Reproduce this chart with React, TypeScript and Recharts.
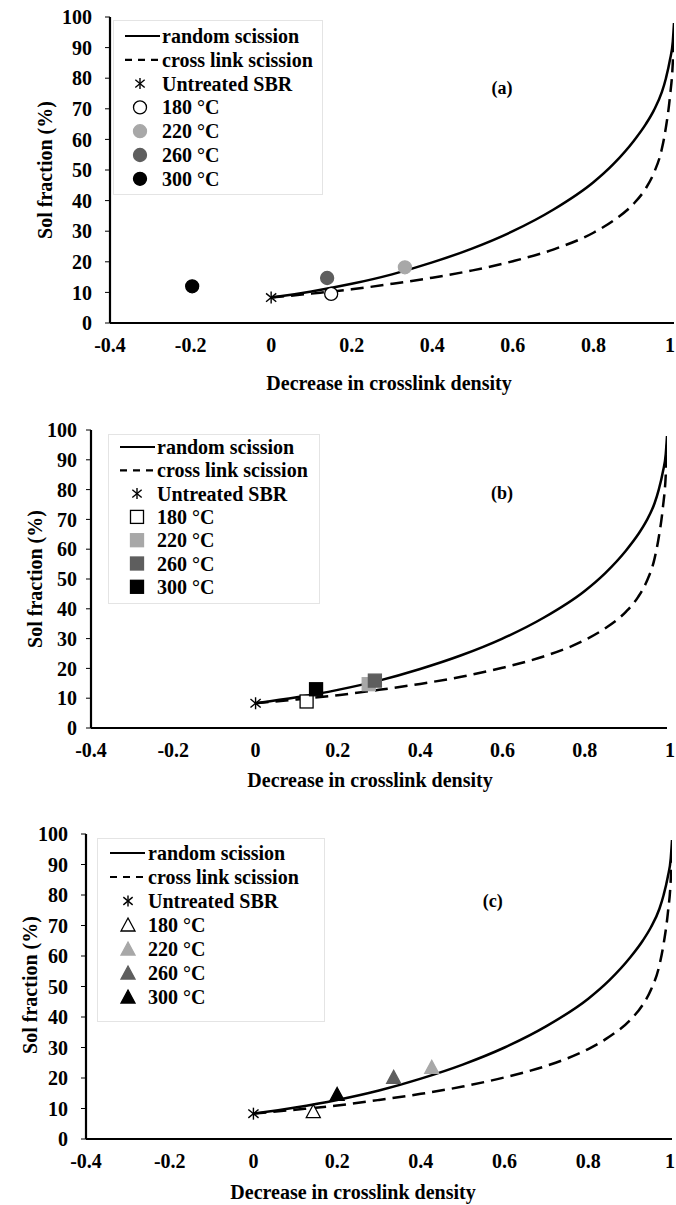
import { ComposedChart, Line, Scatter, XAxis, YAxis, Legend, ReferenceDot } from 'recharts';

const FONT = "'Liberation Serif', 'Times New Roman', serif";

const xTicks = [-0.4, -0.2, 0, 0.2, 0.4, 0.6, 0.8, 1];
const yTicks = [0, 10, 20, 30, 40, 50, 60, 70, 80, 90, 100];

// model curves (same in all three panels)
const curveX = [0, 0.1, 0.2, 0.3, 0.4, 0.5, 0.6, 0.7, 0.8, 0.85, 0.9, 0.93, 0.95, 0.97, 0.98, 0.99, 0.997, 1];
const randomScission = [8.3, 10.3, 12.8, 15.9, 19.8, 24.4, 30, 37, 46, 52, 59.5, 65, 69.5, 75.5, 80, 86, 92, 98];
const crosslinkScission = [8.3, 9.6, 11, 12.8, 14.8, 17.2, 20.2, 24, 29.5, 33.5, 39, 44, 49, 57, 64, 74, 85, 95];

const seriesNames = ['random scission', 'cross link scission', 'Untreated SBR', '180 °C', '220 °C', '260 °C', '300 °C'];
const tempFills = ['#ffffff', '#a8a8a8', '#5e5e5e', '#000000'];

const untreatedX = 0;
const untreatedY = 8.3;

// order: 180, 220, 260, 300 °C
const aX = [0.149, 0.332, 0.139, -0.196];
const aY = [9.5, 18.2, 14.7, 12.0];
const bX = [0.124, 0.275, 0.29, 0.147];
const bY = [8.9, 14.7, 15.9, 13.0];
const cX = [0.143, 0.426, 0.335, 0.2];
const cY = [9.0, 23.5, 20.2, 14.6];

const randomData = curveX.map((x, i) => ({ x, y: randomScission[i] }));
const crosslinkData = curveX.map((x, i) => ({ x, y: crosslinkScission[i] }));

type Kind = 'circle' | 'square' | 'triangle';

function Marker({ kind, cx, cy, fill }: { kind: Kind; cx: number; cy: number; fill: string }) {
  const stroke = fill === '#ffffff' ? '#000' : fill;
  if (kind === 'circle') return <circle cx={cx} cy={cy} r={6.5} fill={fill} stroke={stroke} strokeWidth={1.3} />;
  if (kind === 'square') return <rect x={cx - 6.5} y={cy - 6.5} width={13} height={13} fill={fill} stroke={stroke} strokeWidth={1.3} />;
  return (
    <polygon
      points={`${cx},${cy - 7} ${cx + 7},${cy + 6} ${cx - 7},${cy + 6}`}
      fill={fill}
      stroke={stroke}
      strokeWidth={1.3}
    />
  );
}

function Star({ cx, cy, s = 6 }: { cx: number; cy: number; s?: number }) {
  return (
    <g stroke="#000" strokeWidth={1.4}>
      <line x1={cx} y1={cy - s} x2={cx} y2={cy + s} />
      <line x1={cx - s * 0.85} y1={cy - s * 0.7} x2={cx + s * 0.85} y2={cy + s * 0.7} />
      <line x1={cx - s * 0.85} y1={cy + s * 0.7} x2={cx + s * 0.85} y2={cy - s * 0.7} />
    </g>
  );
}

interface PanelCfg {
  tag: string;
  tagX: number;
  tagY: number;
  kind: Kind;
  xs: number[];
  ys: number[];
  top: number;
  height: number;
  margin: { top: number; right: number; left: number; bottom: number };
  yAxisWidth: number;
  xAxisHeight: number;
  yTickMargin: number;
  xTitleX: number;
  xTitleY: number;
  yTitleX: number;
  yTitleY: number;
  legend: { left: number; top: number; width: number; height: number; row0: number; rowGap: number; lx1: number; lx2: number; sx: number; tx: number };
}

const panels: PanelCfg[] = [
  {
    tag: '(a)', tagX: 0.573, tagY: 77, kind: 'circle', xs: aX, ys: aY,
    top: 0, height: 400, margin: { top: 17, right: 2, left: 0, bottom: 0 },
    yAxisWidth: 110, xAxisHeight: 77, yTickMargin: 13,
    xTitleX: 389, xTitleY: 383, yTitleX: 45, yTitleY: 170,
    legend: { left: 113, top: 20, width: 210, height: 175, row0: 16, rowGap: 23.8, lx1: 12, lx2: 47, sx: 27, tx: 49 },
  },
  {
    tag: '(b)', tagX: 0.599, tagY: 78.9, kind: 'square', xs: bX, ys: bY,
    top: 400, height: 405, margin: { top: 30, right: 9, left: 0, bottom: 0 },
    yAxisWidth: 91, xAxisHeight: 77, yTickMargin: 9,
    xTitleX: 370, xTitleY: 380, yTitleX: 35, yTitleY: 179,
    legend: { left: 108, top: 34, width: 212, height: 170, row0: 13, rowGap: 23.3, lx1: 12, lx2: 47, sx: 29, tx: 49 },
  },
  {
    tag: '(c)', tagX: 0.572, tagY: 78, kind: 'triangle', xs: cX, ys: cY,
    top: 805, height: 400, margin: { top: 29, right: 4, left: 0, bottom: 0 },
    yAxisWidth: 86, xAxisHeight: 66, yTickMargin: 13,
    xTitleX: 353, xTitleY: 387, yTitleX: 30, yTitleY: 180,
    legend: { left: 97, top: 33, width: 228, height: 184, row0: 15, rowGap: 24, lx1: 13, lx2: 48, sx: 31, tx: 51 },
  },
];

const textStyle = { fontFamily: FONT, fontWeight: 'bold' as const, fill: '#000' };

// keeps the last label ("1") inside the picture
function XTick({ x, y, payload }: any) {
  const nearEdge = x > 664;
  return (
    <text
      x={nearEdge ? 675 : x}
      y={y}
      dy="0.71em"
      textAnchor={nearEdge ? 'end' : 'middle'}
      fontSize={20}
      {...textStyle}
    >
      {payload.value}
    </text>
  );
}

function LegendBox({ cfg }: { cfg: PanelCfg }) {
  const L = cfg.legend;
  return (
    <svg width={L.width} height={L.height} style={{ display: 'block' }}>
      <rect x={0.5} y={0.5} width={L.width - 1} height={L.height - 1} fill="#fff" stroke="#e4e4e4" />
      {seriesNames.map((name, i) => {
        const y = L.row0 + i * L.rowGap;
        let sym = null;
        if (i === 0) sym = <line x1={L.lx1} y1={y} x2={L.lx2} y2={y} stroke="#000" strokeWidth={2.2} />;
        else if (i === 1) sym = <line x1={L.lx1} y1={y} x2={L.lx2} y2={y} stroke="#000" strokeWidth={2.2} strokeDasharray="7 6" />;
        else if (i === 2) sym = <Star cx={L.sx} cy={y} s={5.5} />;
        else sym = <Marker kind={cfg.kind} cx={L.sx} cy={y} fill={tempFills[i - 3]} />;
        return (
          <g key={name}>
            {sym}
            <text x={L.tx} y={y} dy="0.35em" fontSize={20} {...textStyle}>
              {name}
            </text>
          </g>
        );
      })}
    </svg>
  );
}

function Panel({ cfg }: { cfg: PanelCfg }) {
  const temps = cfg.xs.map((x, i) => ({ x, y: cfg.ys[i] }));
  return (
    <div style={{ position: 'absolute', left: 0, top: cfg.top }}>
      <ComposedChart width={676} height={cfg.height} margin={cfg.margin}>
        <XAxis
          dataKey="x"
          type="number"
          domain={[-0.4, 1]}
          ticks={xTicks}
          interval={0}
          allowDataOverflow
          height={cfg.xAxisHeight}
          axisLine={{ stroke: '#000', strokeWidth: 2.2 }}
          tickLine={false}
          tickSize={5}
          tickMargin={10}
          tick={<XTick />}
          label={() => (
            <text x={cfg.xTitleX} y={cfg.xTitleY} dy="0.35em" textAnchor="middle" fontSize={20} {...textStyle}>
              Decrease in crosslink density
            </text>
          )}
        />
        <XAxis xAxisId="top" orientation="top" type="number" domain={[-0.4, 1]} height={0} tick={false} tickLine={false} axisLine={{ stroke: '#000', strokeWidth: 2.2 }} />
        <YAxis
          type="number"
          domain={[0, 100]}
          ticks={yTicks}
          interval={0}
          width={cfg.yAxisWidth}
          axisLine={{ stroke: '#000', strokeWidth: 2.2 }}
          tickLine={{ stroke: '#000', strokeWidth: 1 }}
          tickSize={5}
          tickMargin={cfg.yTickMargin}
          tick={{ ...textStyle, fontSize: 20 }}
          label={() => (
            <text
              x={cfg.yTitleX}
              y={cfg.yTitleY}
              dy="0.35em"
              textAnchor="middle"
              fontSize={20}
              transform={`rotate(-90 ${cfg.yTitleX} ${cfg.yTitleY})`}
              {...textStyle}
            >
              Sol fraction (%)
            </text>
          )}
        />
        <YAxis yAxisId="right" orientation="right" type="number" domain={[0, 100]} width={0} tick={false} tickLine={false} axisLine={{ stroke: '#000', strokeWidth: 2.2 }} />
        <Line data={crosslinkData} dataKey="y" type="monotone" stroke="#000" strokeWidth={2.5} strokeDasharray="13 7" dot={false} isAnimationActive={false} />
        <Line data={randomData} dataKey="y" type="monotone" stroke="#000" strokeWidth={2.5} dot={false} isAnimationActive={false} />
        <Scatter
          data={[{ x: untreatedX, y: untreatedY }]}
          dataKey="y"
          isAnimationActive={false}
          shape={(p: any) => <Star cx={p.cx} cy={p.cy} />}
        />
        {temps.map((pt, i) => (
          <Scatter
            key={i}
            data={[pt]}
            dataKey="y"
            isAnimationActive={false}
            shape={(p: any) => <Marker kind={cfg.kind} cx={p.cx} cy={p.cy} fill={tempFills[i]} />}
          />
        ))}
        <ReferenceDot
          x={cfg.tagX}
          y={cfg.tagY}
          r={0}
          shape={(p: any) => (
            <text x={p.cx} y={p.cy} dy="0.35em" textAnchor="middle" fontSize={18} {...textStyle}>
              {cfg.tag}
            </text>
          )}
        />
        <Legend
          layout="vertical"
          align="center"
          verticalAlign="middle"
          wrapperStyle={{ left: cfg.legend.left, top: cfg.legend.top, width: cfg.legend.width, height: cfg.legend.height, margin: 0 }}
          content={() => <LegendBox cfg={cfg} />}
        />
      </ComposedChart>
    </div>
  );
}

export default function App() {
  return (
    <div style={{ position: 'absolute', left: 0, top: 0, width: 676, height: 1205, background: '#fff' }}>
      {panels.map((cfg) => (
        <Panel key={cfg.tag} cfg={cfg} />
      ))}
    </div>
  );
}
